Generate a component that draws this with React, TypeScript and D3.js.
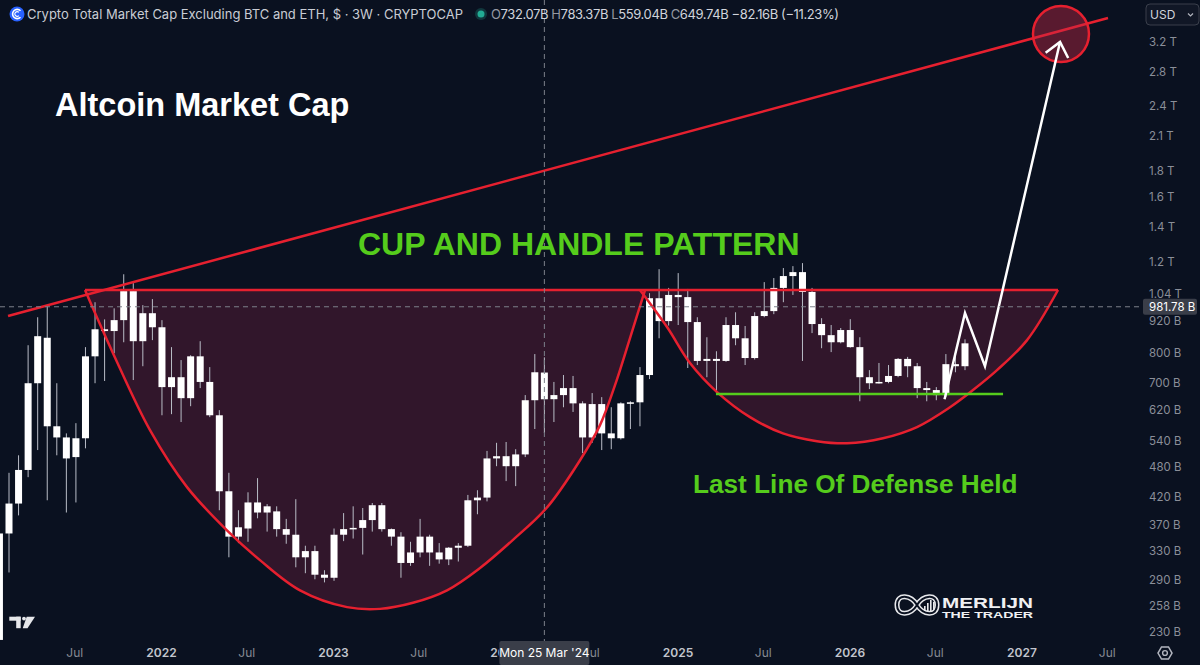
import React, { useEffect } from 'react';
import * as d3 from 'd3';

const W = 1200;
const H = 665;
const BG = '#0a1120';

// 3W candles (values in billions USD), index 0..101
const opens = [222, 357, 408, 474, 698, 855, 576, 548, 502, 546, 787, 888, 881, 925, 1053, 842, 954, 896, 686, 717, 653, 787, 702, 605, 431, 352, 365, 410, 392, 394, 364, 355, 321, 330, 297, 293, 355, 364, 366, 379, 405, 364, 352, 313, 328, 352, 328, 318, 335, 338, 414, 419, 499, 504, 482, 508, 647, 732.07, 650, 662, 683, 638, 548, 636, 558, 546, 638, 641, 724, 1020, 921, 1035, 1025, 917, 771, 778, 771, 905, 853, 781, 942, 963, 1068, 1126, 1146, 1049, 909, 865, 838, 885, 820, 717, 698, 702, 721, 778, 753, 683, 677, 662, 760, 753];
const highs = [362, 468, 506, 827, 937, 989, 698, 558, 584, 820, 1002, 928, 975, 1135, 1091, 989, 1016, 925, 820, 774, 791, 842, 750, 619, 468, 396, 429, 457, 407, 403, 381, 416, 338, 338, 303, 365, 391, 403, 400, 409, 409, 365, 359, 344, 381, 355, 342, 336, 342, 424, 433, 516, 535, 537, 520, 662, 795, 783.37, 702, 724, 721, 644, 668, 656, 627, 641, 644, 750, 1043, 1161, 1068, 1141, 1063, 937, 857, 805, 937, 958, 901, 958, 1096, 1116, 1167, 1177, 1193, 1068, 933, 905, 893, 929, 857, 740, 764, 757, 781, 785, 764, 702, 686, 795, 791, 849];
const lows = [215, 300, 387, 459, 518, 414, 506, 392, 410, 522, 698, 705, 798, 838, 708, 753, 846, 605, 608, 587, 630, 683, 600, 396, 321, 342, 344, 382, 360, 352, 341, 307, 299, 291, 287, 289, 345, 349, 325, 360, 360, 338, 293, 309, 321, 309, 312, 310, 315, 336, 389, 412, 482, 451, 441, 502, 569, 559.04, 587, 627, 614, 511, 535, 518, 520, 543, 569, 576, 711, 853, 903, 905, 747, 757, 717, 668, 768, 827, 757, 776, 937, 950, 1002, 1035, 771, 873, 816, 802, 834, 818, 644, 680, 697, 698, 717, 717, 653, 644, 647, 656, 733, 740];
const closes = [357, 408, 474, 698, 861, 576, 548, 499, 546, 787, 888, 881, 925, 1053, 842, 954, 896, 686, 717, 653, 787, 702, 605, 431, 352, 367, 410, 392, 403, 364, 355, 321, 330, 297, 293, 355, 364, 366, 379, 405, 364, 352, 313, 328, 352, 328, 318, 335, 338, 414, 419, 499, 504, 482, 508, 647, 733, 649.74, 662, 683, 638, 548, 636, 558, 546, 638, 641, 724, 1020, 921, 1035, 1025, 917, 771, 778, 771, 905, 853, 781, 942, 963, 1068, 1126, 1146, 1049, 909, 865, 838, 885, 820, 717, 698, 702, 721, 778, 753, 683, 677, 662, 760, 753, 834];

// price axis
const priceTicks = [3200, 2800, 2400, 2100, 1800, 1600, 1400, 1200, 1040, 920, 800, 700, 620, 540, 480, 420, 370, 330, 290, 258, 230];
const priceTickLabels = ['3.2 T', '2.8 T', '2.4 T', '2.1 T', '1.8 T', '1.6 T', '1.4 T', '1.2 T', '1.04 T', '920 B', '800 B', '700 B', '620 B', '540 B', '480 B', '420 B', '370 B', '330 B', '290 B', '258 B', '230 B'];

// time axis
const timeTicks = ['2021-07-01', '2022-01-01', '2022-07-01', '2023-01-01', '2023-07-01', '2024-01-01', '2024-07-01', '2025-01-01', '2025-07-01', '2026-01-01', '2026-07-01', '2027-01-01', '2027-07-01'];
const timeTickLabels = ['Jul', '2022', 'Jul', '2023', 'Jul', '2024', 'Jul', '2025', 'Jul', '2026', 'Jul', '2027', 'Jul'];

// drawings, in (bar index, value in B)
const cupIdx = [8.95, 11.88, 15.75, 19.62, 23.8, 27.25, 31.44, 36.36, 39.81, 43.26, 46.82, 50.27, 53.72, 57.28, 60.73, 62.82, 64.39, 65.96, 67.53];
const cupVal = [1058, 798, 566, 439, 362, 317, 277, 257, 255, 262, 277, 306, 347, 401, 495, 579, 692, 854, 1058];
const handleIdx = [67.0, 69.83, 72.23, 75.06, 78.51, 81.96, 85.52, 88.66, 92.42, 95.98, 99.43, 101.84, 104.35, 107.49, 110.73];
const handleVal = [1058, 897, 764, 671, 600, 558, 539, 534, 546, 574, 627, 677, 740, 846, 1058];
const rimIdx = [8.95, 110.73];
const rimValue = 1058;
const trendIdx = [0.9, 115.96];
const trendVal = [942, 3562];
const supportIdx = [74.95, 104.98];
const supportValue = 665;
const arrowIdx = [98.86, 101.0, 103.09, 110.94];
const arrowVal = [650, 955, 753, 3200];
const targetIdx = 111.04;
const targetValue = 3316;
const crosshairIdx = 57;
const crosshairValue = 981.78;
const crosshairDateLabel = "Mon 25 Mar '24";
const crosshairPriceLabel = '981.78 B';

const RED = '#e6202f';
const GREEN = '#55cc1c';
const FONT = 'Inter, "Noto Sans", sans-serif';
const BOLD = '"Liberation Sans", Arial, sans-serif';

export default function App() {
  useEffect(() => {
    document.body.style.margin = '0';
    document.body.style.background = BG;
  }, []);

  const plotRight = 1143;
  const plotBottom = 641;

  const x = d3.scaleLinear().domain([1, 101]).range([9, 965]);
  const y = d3.scaleLog().domain([230, 3200]).range([632, 42]);
  const t = d3
    .scaleUtc()
    .domain([new Date(Date.UTC(2022, 0, 1)), new Date(Date.UTC(2027, 0, 1))])
    .range([161.5, 1022]);

  const pts = (xs: number[], vs: number[]) => xs.map((v, i) => [v, vs[i]] as [number, number]);
  const curve = d3
    .line<[number, number]>()
    .x((d) => x(d[0]))
    .y((d) => y(d[1]))
    .curve(d3.curveCatmullRom.alpha(0.5));
  const straight = d3
    .line<[number, number]>()
    .x((d) => x(d[0]))
    .y((d) => y(d[1]));

  const cupPath = curve(pts(cupIdx, cupVal)) || '';
  const handlePath = curve(pts(handleIdx, handleVal)) || '';

  const arrowPts = pts(arrowIdx, arrowVal);
  const n = arrowPts.length;
  const tipX = x(arrowPts[n - 1][0]);
  const tipY = y(arrowPts[n - 1][1]);
  const prvX = x(arrowPts[n - 2][0]);
  const prvY = y(arrowPts[n - 2][1]);
  const back = Math.atan2(prvY - tipY, prvX - tipX);
  const wing = 18;
  const wa = (40 * Math.PI) / 180;
  const w1 = [tipX + wing * Math.cos(back + wa), tipY + wing * Math.sin(back + wa)];
  const w2 = [tipX + wing * Math.cos(back - wa), tipY + wing * Math.sin(back - wa)];

  const bodyW = 7;
  const chX = x(crosshairIdx);
  const chY = y(crosshairValue);
  const tipW = 90;

  const hexPts = d3.range(6).map((k) => {
    const a = (Math.PI / 3) * k;
    return `${1165 + 7 * Math.cos(a)},${653 + 7 * Math.sin(a)}`;
  });

  return (
    <div style={{ position: 'absolute', left: 0, top: 0 }}>
      <svg width={W} height={H} style={{ display: 'block', background: BG }}>
        <defs>
          <clipPath id="plot">
            <rect x={0} y={0} width={plotRight} height={plotBottom} />
          </clipPath>
          <clipPath id="timeaxis">
            <rect x={0} y={641} width={chX - tipW / 2} height={24} />
            <rect x={chX + tipW / 2} y={641} width={plotRight - chX - tipW / 2} height={24} />
          </clipPath>
        </defs>
        <rect x={0} y={0} width={W} height={H} fill={BG} />

        <g clipPath="url(#plot)">
          {/* cup fills */}
          <path d={cupPath + 'Z'} fill="rgba(220,50,90,0.19)" />
          <path d={handlePath + 'Z'} fill="rgba(220,50,90,0.19)" />

          {/* candles */}
          {opens.map((o, i) => {
            const c = closes[i];
            const cx = x(i);
            const top = y(Math.max(o, c));
            const bot = y(Math.min(o, c));
            return (
              <g key={i}>
                <line x1={cx} x2={cx} y1={y(highs[i])} y2={y(lows[i])} stroke="#b9bdc7" strokeWidth={1} />
                <rect x={cx - bodyW / 2} y={top} width={bodyW} height={Math.max(1.5, bot - top)} fill="#ffffff" />
              </g>
            );
          })}

          {/* cup strokes */}
          <path d={cupPath} fill="none" stroke={RED} strokeWidth={2.5} />
          <path d={handlePath} fill="none" stroke={RED} strokeWidth={2.5} />
          <line x1={x(rimIdx[0])} x2={x(rimIdx[1])} y1={y(rimValue)} y2={y(rimValue)} stroke={RED} strokeWidth={2.5} />

          {/* trend line */}
          <path d={straight(pts(trendIdx, trendVal)) || ''} fill="none" stroke={RED} strokeWidth={2.5} />

          {/* support */}
          <line x1={x(supportIdx[0])} x2={x(supportIdx[1])} y1={y(supportValue)} y2={y(supportValue)} stroke={GREEN} strokeWidth={2.5} />

          {/* target circle */}
          <circle cx={x(targetIdx)} cy={y(targetValue)} r={28} fill="rgba(200,40,70,0.42)" stroke={RED} strokeWidth={2.5} />

          {/* white projection arrow */}
          <path d={straight(arrowPts) || ''} fill="none" stroke="#ffffff" strokeWidth={2.5} strokeLinejoin="miter" />
          <path d={`M${w1[0]},${w1[1]}L${tipX},${tipY}L${w2[0]},${w2[1]}`} fill="none" stroke="#ffffff" strokeWidth={2.5} />

          {/* crosshair */}
          <line x1={chX} x2={chX} y1={0} y2={plotBottom} stroke="#7c808a" strokeWidth={1} strokeDasharray="5,4" />
          <line x1={0} x2={plotRight} y1={chY} y2={chY} stroke="#7c808a" strokeWidth={1} strokeDasharray="5,4" />
        </g>

        {/* annotations */}
        <text x={55} y={116} fill="#ffffff" fontFamily={BOLD} fontWeight={700} fontSize={32.5}>
          Altcoin Market Cap
        </text>
        <text x={358} y={255} fill={GREEN} fontFamily={BOLD} fontWeight={700} fontSize={32}>
          CUP AND HANDLE PATTERN
        </text>
        <text x={693} y={493} fill={GREEN} fontFamily={BOLD} fontWeight={700} fontSize={26.2}>
          Last Line Of Defense Held
        </text>

        {/* header */}
        <circle cx={17} cy={14} r={7.5} fill="#2962ff" />
        <path d="M20.5,10.8 A4.6,4.6 0 1 0 20.5,17.2" fill="none" stroke="#ffffff" strokeWidth={1.6} />
        <path d="M18.8,12.4 A2.3,2.3 0 1 0 18.8,15.6" fill="none" stroke="#ffffff" strokeWidth={1.2} />
        <text x={27} y={19} fill="#c9ccd4" fontFamily={FONT} fontSize={13} textLength={436} lengthAdjust="spacing">
          Crypto Total Market Cap Excluding BTC and ETH, $ · 3W · CRYPTOCAP
        </text>
        <circle cx={481} cy={14} r={6} fill="rgba(34,171,148,0.25)" />
        <circle cx={481} cy={14} r={3.5} fill="#22ab94" />
        <text x={491} y={19} fontFamily={FONT} fontSize={13} textLength={348} lengthAdjust="spacing">
          <tspan fill="#9598a1">O</tspan>
          <tspan fill="#d1d4dc">732.07B </tspan>
          <tspan fill="#9598a1">H</tspan>
          <tspan fill="#d1d4dc">783.37B </tspan>
          <tspan fill="#9598a1">L</tspan>
          <tspan fill="#d1d4dc">559.04B </tspan>
          <tspan fill="#9598a1">C</tspan>
          <tspan fill="#d1d4dc">649.74B −82.16B (−11.23%)</tspan>
        </text>

        {/* USD button */}
        <rect x={1146} y={4} width={53} height={21} rx={4} fill="#111726" stroke="#3a3f4b" strokeWidth={1} />
        <text x={1150} y={19} fill="#d1d4dc" fontFamily={FONT} fontSize={12}>
          USD
        </text>
        <path d="M1188,13.5 L1190.5,16 L1193,13.5" fill="none" stroke="#b2b5be" strokeWidth={1.2} />

        {/* price axis */}
        {priceTicks.map((v, i) => (
          <text key={v} x={1149} y={y(v) + 4} fill="#8b8f99" fontFamily={FONT} fontSize={11.5}>
            {priceTickLabels[i]}
          </text>
        ))}
        <rect x={1143} y={chY - 8} width={54} height={16} rx={2} fill="#3a3e49" />
        <text x={1149} y={chY + 4.5} fill="#ffffff" fontFamily={FONT} fontSize={11.5}>
          {crosshairPriceLabel}
        </text>

        {/* time axis (labels under the crosshair tooltip are hidden by it) */}
        <g clipPath="url(#timeaxis)">
          {timeTicks.map((d, i) => {
            const isYear = timeTickLabels[i] !== 'Jul';
            return (
              <text
                key={d}
                x={t(new Date(d + 'T00:00:00Z'))}
                y={657}
                textAnchor="middle"
                fill={isYear ? '#c2c5cd' : '#868993'}
                fontWeight={isYear ? 600 : 400}
                fontFamily={FONT}
                fontSize={12}
              >
                {timeTickLabels[i]}
              </text>
            );
          })}
        </g>
        <rect x={chX - tipW / 2} y={641} width={tipW} height={24} rx={2} fill="#3a3e49" />
        <text x={chX} y={657} textAnchor="middle" fill="#ffffff" fontFamily={FONT} fontSize={12}>
          {crosshairDateLabel}
        </text>

        {/* settings icon */}
        <polygon points={hexPts.join(' ')} fill="none" stroke="#b2b5be" strokeWidth={1.5} />
        <circle cx={1165} cy={653} r={2.4} fill="none" stroke="#b2b5be" strokeWidth={1.4} />

        {/* TradingView logo */}
        <g fill="#e6e7ea">
          <rect x={9.3} y={616.7} width={11.4} height={4} />
          <rect x={16.2} y={616.7} width={4.5} height={11.5} />
          <circle cx={24} cy={618.6} r={1.9} />
          <polygon points="26.7,616.7 35,616.7 27.5,628.2 22.7,628.2" />
        </g>

        {/* Merlijn logo */}
        <g>
          <path
            d="M917,605 C911,595 897,593 897,605 C897,617 911,615 917,605 C923,595 937,593 937,605 C937,617 923,615 917,605 Z"
            fill="none"
            stroke="#e8e9ec"
            strokeWidth={5}
          />
          <path
            d="M917,605 C911,595 897,593 897,605 C897,617 911,615 917,605 C923,595 937,593 937,605 C937,617 923,615 917,605 Z"
            fill="none"
            stroke={BG}
            strokeWidth={2}
          />
          <rect x={924} y={606} width={1.6} height={5} fill="#e8e9ec" />
          <rect x={927} y={603} width={1.6} height={8} fill="#e8e9ec" />
          <rect x={930} y={600} width={1.6} height={11} fill="#e8e9ec" />
          <rect x={933} y={602} width={1.6} height={8} fill="#e8e9ec" />
          <text x={942} y={607.5} fill="#f0f1f3" fontFamily={BOLD} fontWeight={700} fontSize={14} textLength={91} lengthAdjust="spacingAndGlyphs">
            MERLIJN
          </text>
          <text x={942} y={617.5} fill="#f0f1f3" fontFamily={BOLD} fontWeight={700} fontSize={9.8} textLength={91} lengthAdjust="spacingAndGlyphs">
            THE TRADER
          </text>
        </g>
      </svg>
    </div>
  );
}
